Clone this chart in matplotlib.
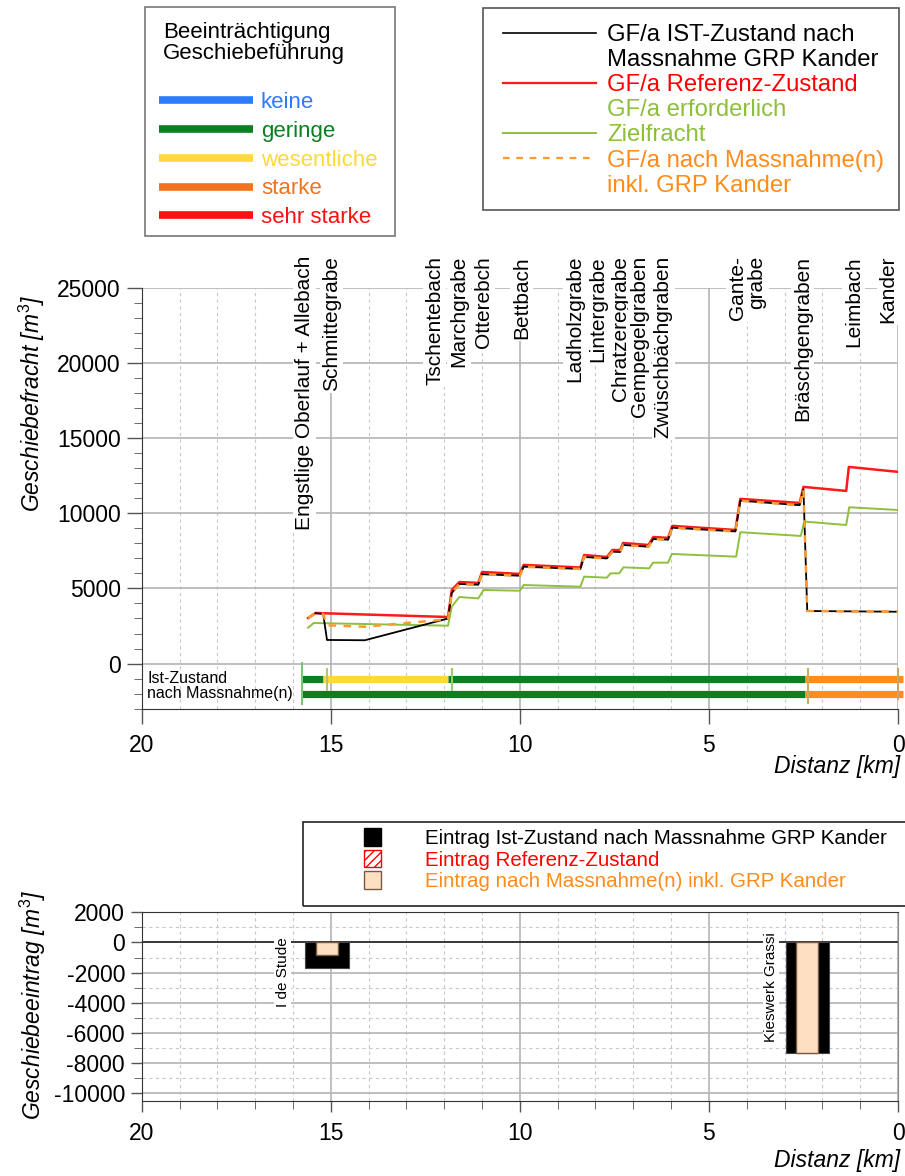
import matplotlib
matplotlib.use("Agg")
import matplotlib.pyplot as plt
from matplotlib.lines import Line2D
from matplotlib.patches import Patch, Rectangle
from matplotlib.ticker import MultipleLocator

plt.rcParams['font.family'] = ['Liberation Sans', 'DejaVu Sans']
plt.rcParams['mathtext.fontset'] = 'custom'
plt.rcParams['mathtext.it'] = 'Liberation Sans:italic'
plt.rcParams['mathtext.rm'] = 'Liberation Sans'
plt.rcParams['axes.unicode_minus'] = False

# Geschiebefracht [m3/a] entlang Distanz [km]
km_ref = [15.6, 15.4, 15.2, 11.9, 11.8, 11.6, 11.1, 11.0, 10.0, 9.9, 8.4, 8.3, 7.7, 7.55, 7.35, 7.27,
          6.6, 6.47, 6.08, 5.97, 4.3, 4.17, 2.6, 2.5, 1.37, 1.3, 0.0]
gf_ref = [3030, 3370, 3350, 3100, 4900, 5430, 5370, 6100, 5970, 6570, 6400, 7230, 7100, 7570, 7550, 8030,
          7900, 8430, 8370, 9170, 8900, 10970, 10700, 11770, 11500, 13100, 12770]

km_ist = [15.4, 15.2, 15.1, 14.1, 11.9, 11.8, 11.6, 11.1, 11.0, 10.0, 9.9, 8.4, 8.3, 7.7, 7.55, 7.35, 7.27,
          6.6, 6.47, 6.08, 5.97, 4.3, 4.17, 2.6, 2.5, 2.4, 0.0]
gf_ist = [3350, 3300, 1570, 1550, 3000, 4700, 5300, 5250, 5950, 5850, 6450, 6300, 7100, 7000, 7450, 7430, 7900,
          7780, 8300, 8250, 9050, 8800, 10850, 10550, 11600, 3500, 3450]

km_mass = [15.6, 15.4, 15.2, 15.1, 14.1, 11.9, 11.8, 11.6, 11.1, 11.0, 10.0, 9.9, 8.4, 8.3, 7.7, 7.55, 7.35,
           7.27, 6.6, 6.47, 6.08, 5.97, 4.3, 4.17, 2.6, 2.5, 2.4, 0.0]
gf_mass = [3030, 3350, 3300, 2550, 2450, 2950, 4700, 5300, 5250, 5950, 5850, 6450, 6300, 7100, 7000, 7450,
           7430, 7900, 7780, 8300, 8250, 9050, 8800, 10850, 10550, 11600, 3500, 3450]

km_ziel = [15.6, 15.45, 11.9, 11.8, 11.6, 11.1, 10.96, 10.0, 9.9, 8.4, 8.3, 7.7, 7.6, 7.37, 7.26, 6.58, 6.48,
           6.08, 5.98, 4.28, 4.17, 2.57, 2.48, 1.37, 1.29, 0.0]
gf_ziel = [2390, 2700, 2520, 3790, 4430, 4340, 4900, 4850, 5230, 5120, 5790, 5720, 6010, 6010, 6410, 6340, 6720,
           6720, 7300, 7120, 8750, 8500, 9460, 9230, 10410, 10230]

# Zuflüsse
trib_names = ['Engstlige Oberlauf + Allebach', 'Schmittegrabe', 'Tschentebach', 'Marchgrabe', 'Otterebch',
              'Bettbach', 'Ladholzgrabe', 'Lintergrabe', 'Chratzeregrabe', 'Gempegelgraben',
              'Zwüschbächgraben', 'Gante-\ngrabe', 'Bräschgengraben', 'Leimbach', 'Kander']
trib_km = [15.69, 14.98, 12.25, 11.61, 10.97, 9.96, 8.54, 7.93, 7.35, 6.83, 6.21, 3.98, 2.52, 1.18, 0.26]

# Beeinträchtigung Geschiebeführung
class_names = ['keine', 'geringe', 'wesentliche', 'starke', 'sehr starke']
class_colors = ['#2e7bff', '#0a8020', '#ffd83a', '#f2721f', '#ff1010']
band_colors = {'geringe': '#0a8020', 'wesentliche': '#ffd83a', 'starke': '#ff8c1e'}

band_labels = ['Ist-Zustand', 'nach Massnahme(n)']
band_levels = [-1000, -2000]
ist_start = [15.8, 15.2, 11.9, 2.45]
ist_end = [15.2, 11.9, 2.45, -0.12]
ist_class = ['geringe', 'wesentliche', 'geringe', 'starke']
mass_start = [15.8, 2.45]
mass_end = [2.45, -0.12]
mass_class = ['geringe', 'starke']

mark_km = [15.75, 15.1, 11.8, 2.38, 0.0]
mark_lo = [-2770, -1810, -1810, -2700, -2450]
mark_hi = [100, -300, -300, -300, -300]
mark_col = ['#7cc47c', '#b8c46a', '#98cc6a', '#c4b060', '#c8a860']

# Geschiebeeintrag [m3]
eintrag_names = ['I de Stude', 'Kieswerk Grassi']
eintrag_km = [15.1, 2.4]
eintrag_ist = [-1720, -7310]
eintrag_ref = [0, 0]
eintrag_mass = [-840, -7310]
eintrag_label_km = [16.27, 3.36]
eintrag_label_y = [350, 700]

W, H = 905, 1176
fig = plt.figure(figsize=(W / 100, H / 100), dpi=100)


def fx(px):
    return px / W


def fy(py):
    return 1 - py / H


ax = fig.add_axes([fx(141.7), fy(709), fx(898 - 141.7), (709 - 288.3) / H])
ax2 = fig.add_axes([fx(141.7), fy(1100.7), fx(898 - 141.7), (1100.7 - 912.3) / H])

# ---- oberes Diagramm
ax.plot(km_ziel, gf_ziel, color='#8dc03c', lw=1.4, zorder=4)
ax.plot(km_ref, gf_ref, color='#ff1a1a', lw=1.8, zorder=5)
ax.plot(km_ist, gf_ist, color='black', lw=1.3, zorder=6)
ax.plot(km_mass, gf_mass, color='#ff9a30', lw=1.8, ls=(0, (3, 3)), zorder=7)

for lvl, starts, ends, cls in [(band_levels[0], ist_start, ist_end, ist_class),
                              (band_levels[1], mass_start, mass_end, mass_class)]:
    for s, e, c in zip(starts, ends, cls):
        ax.hlines(lvl, s, e, color=band_colors[c], lw=5.2, zorder=5, clip_on=False)
ax.vlines(mark_km, mark_lo, mark_hi, colors=mark_col, lw=1.5, zorder=6, clip_on=False)

for lvl, txt in zip(band_levels, band_labels):
    ax.text(19.85, lvl, txt, fontsize=11.5, ha='left', va='center', zorder=6)

ax.set_xlim(20, 0)
ax.set_ylim(-3030, 25000)
ax.xaxis.set_major_locator(MultipleLocator(5))
ax.xaxis.set_minor_locator(MultipleLocator(1))
ax.yaxis.set_major_locator(MultipleLocator(5000))
ax.yaxis.set_minor_locator(MultipleLocator(1000))
ax.grid(which='major', color='#b4b4b4', lw=1.2, zorder=0)
ax.grid(which='minor', axis='x', color='#c8c8c8', lw=0.8, ls=(0, (3, 3)), zorder=0)
ax.tick_params(axis='both', which='major', direction='out', length=11, width=1,
               color='#555', labelsize=16.5, pad=4)
ax.tick_params(axis='y', which='minor', direction='out', length=5.5, color='#555')
ax.tick_params(axis='x', which='minor', length=0)
ax.tick_params(axis='x', which='major', pad=7)
for s in ['top', 'right']:
    ax.spines[s].set_visible(False)
for s in ['left', 'bottom']:
    ax.spines[s].set_color('#333')

for name, k in zip(trib_names, trib_km):
    ax.text(k, 1.077, name, transform=ax.get_xaxis_transform(), rotation=90, ha='center', va='top',
            multialignment='right', linespacing=1.0, fontsize=15, clip_on=False, zorder=8,
            bbox=dict(fc='white', ec='none', pad=1.5))

ax.text(-0.1455, 0.727, r'Geschiebefracht [$m^3$]', transform=ax.transAxes, rotation=90,
        ha='center', va='center', fontsize=16.5, style='italic')
ax.text(1.003, -0.1355, 'Distanz [km]', transform=ax.transAxes, ha='right', va='center',
        fontsize=16.5, style='italic')

# ---- unteres Diagramm
ax2.bar(eintrag_km, eintrag_ist, width=1.15, color='black', ec='#444', lw=0.8, zorder=3)
ax2.bar(eintrag_km, eintrag_ref, width=0.85, fc='white', ec='red', hatch='////', lw=0, zorder=4)
ax2.bar(eintrag_km, eintrag_mass, width=0.57, color='#ffdfc2', ec='#7a5a44', lw=1, zorder=5)
ax2.axhline(0, color='#222', lw=1.2, zorder=2)

for name, k, y in zip(eintrag_names, eintrag_label_km, eintrag_label_y):
    ax2.text(k, y, name, rotation=90, ha='center', va='top', fontsize=11, zorder=6,
             bbox=dict(fc='white', ec='none', pad=1))

ax2.set_xlim(20, 0)
ax2.set_ylim(-10500, 2000)
ax2.xaxis.set_major_locator(MultipleLocator(5))
ax2.xaxis.set_minor_locator(MultipleLocator(1))
ax2.yaxis.set_major_locator(MultipleLocator(2000))
ax2.yaxis.set_minor_locator(MultipleLocator(1000))
ax2.grid(which='major', color='#b4b4b4', lw=1.2, zorder=0)
ax2.grid(which='minor', color='#c8c8c8', lw=0.8, ls=(0, (3, 3)), zorder=0)
ax2.tick_params(axis='both', which='major', direction='out', length=8, width=1,
                color='#555', labelsize=16.5, pad=4)
ax2.tick_params(axis='both', which='minor', direction='out', length=6, color='#555')
ax2.tick_params(axis='x', which='major', pad=7)
ax2.spines['right'].set_color('#888')
for s in ['left', 'bottom', 'top']:
    ax2.spines[s].set_color('#333')

ax2.text(-0.1437, 0.508, r'Geschiebeeintrag [$m^3$]', transform=ax2.transAxes, rotation=90,
         ha='center', va='center', fontsize=16.5, style='italic')
ax2.text(1.003, -0.315, 'Distanz [km]', transform=ax2.transAxes, ha='right', va='center',
         fontsize=16.5, style='italic')

# ---- Legenden
fig.text(fx(163), fy(43), 'Beeinträchtigung\nGeschiebeführung', fontsize=16, ha='left', va='center',
         linespacing=1.0)
h1 = [Line2D([0], [0], color=c, lw=5.5, solid_capstyle='butt') for c in class_colors]
fig.legend(h1, class_names, loc='upper left', bbox_to_anchor=(fx(159), fy(92)), frameon=False,
           fontsize=16, handlelength=4.23, handletextpad=0.36, labelspacing=0.35, borderpad=0,
           borderaxespad=0, labelcolor=class_colors)
fig.add_artist(Rectangle((fx(145), fy(236)), fx(250), 229 / H, transform=fig.transFigure,
                         fill=False, ec='#777', lw=1.2))

line_labels = ['GF/a IST-Zustand nach', 'Massnahme GRP Kander', 'GF/a Referenz-Zustand',
               'GF/a erforderlich', 'Zielfracht', 'GF/a nach Massnahme(n)', 'inkl. GRP Kander']
line_colors = ['black', 'black', '#ff0000', '#8cbf3a', '#8cbf3a', '#ff8c1a', '#ff8c1a']
blank = Line2D([0], [0], color='none')
h2 = [Line2D([0], [0], color='black', lw=1.2), blank,
      Line2D([0], [0], color='#ff1a1a', lw=1.6), blank,
      Line2D([0], [0], color='#8dc03c', lw=1.4),
      Line2D([0], [0], color='#ff9a30', lw=1.6, ls=(0, (3, 3))), blank]
fig.legend(h2, line_labels, loc='upper left', bbox_to_anchor=(fx(503), fy(24)), frameon=False,
           fontsize=17.2, handlelength=3.9, handletextpad=0.45, labelspacing=0.13, borderpad=0,
           borderaxespad=0, labelcolor=line_colors)
fig.add_artist(Rectangle((fx(483), fy(210)), fx(416), 202 / H, transform=fig.transFigure,
                         fill=False, ec='#555', lw=1.2))

bar_labels = ['Eintrag Ist-Zustand nach Massnahme GRP Kander', 'Eintrag Referenz-Zustand',
              'Eintrag nach Massnahme(n) inkl. GRP Kander']
bar_colors = ['black', '#ff0000', '#ff8c1a']
h3 = [Patch(fc='black', ec='black'), Patch(fc='white', ec='red', hatch='////'),
      Patch(fc='#ffdfc2', ec='#7a5a44')]
fig.legend(h3, bar_labels, loc='upper left', bbox_to_anchor=(fx(364), fy(828)), frameon=False,
           fontsize=14.8, handlelength=0.85, handleheight=0.95, handletextpad=2.1, labelspacing=0.08,
           borderpad=0, borderaxespad=0, labelcolor=bar_colors)
fig.add_artist(Rectangle((fx(303), fy(906)), fx(620), 84 / H, transform=fig.transFigure,
                         fill=False, ec='#222', lw=1.2, clip_on=False))

fig.savefig('out.png', dpi=100)
